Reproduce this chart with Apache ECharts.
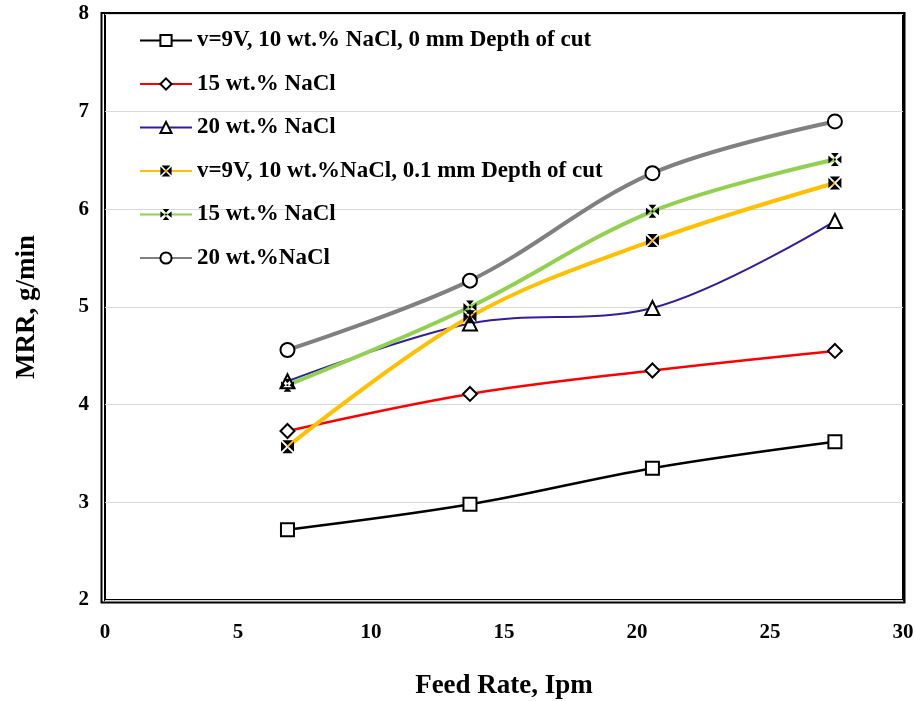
<!DOCTYPE html>
<html><head><meta charset="utf-8">
<script src="https://cdn.jsdelivr.net/npm/echarts@6/dist/echarts.min.js"></script>
<style>html,body{margin:0;padding:0;background:#fff}#c{width:915px;height:701px}</style>
</head><body><div id="c"></div>
<script>
const feedRate = [6.86, 13.72, 20.58, 27.44];
const seriesNames = [
  'v=9V, 10 wt.% NaCl, 0 mm Depth of cut',
  '15 wt.% NaCl',
  '20 wt.% NaCl',
  'v=9V, 10 wt.%NaCl, 0.1 mm Depth of cut',
  '15 wt.% NaCl ',
  '20 wt.%NaCl'
];
const mrr0_10 = [2.72, 2.98, 3.35, 3.62];
const mrr0_15 = [3.73, 4.11, 4.35, 4.55];
const mrr0_20 = [4.24, 4.83, 4.99, 5.88];
const mrr01_10 = [3.57, 4.90, 5.68, 6.27];
const mrr01_15 = [4.20, 5.00, 5.98, 6.51];
const mrr01_20 = [4.56, 5.27, 6.37, 6.90];
const xTicks = [0, 5, 10, 15, 20, 25, 30];
const yTicks = [2, 3, 4, 5, 6, 7, 8];

const font = 'Liberation Serif';
const boxX = 'path://M1,0 L9,0 L5,4 Z M1,10 L9,10 L5,6 Z M0,1 L0,9 L4,5 Z M10,1 L10,9 L6,5 Z';
const boxStar = 'path://M2,0 L8,0 L5,3.5 Z M2,10 L8,10 L5,6.5 Z M0,2 L0,8 L3.5,5 Z M10,2 L10,8 L6.5,5 Z M4.3,4.3 L5.7,4.3 L5.7,5.7 L4.3,5.7 Z';

function mk(name, data, color, width, symbol, size, filled) {
  return {
    name: name, type: 'line', smooth: 0.35,
    data: data.map((v, i) => [feedRate[i], v]),
    lineStyle: { color: color, width: width },
    itemStyle: filled ? { color: '#000', borderWidth: 0 } : { color: '#fff', borderColor: '#000', borderWidth: 2 },
    color: color,
    symbol: symbol, symbolSize: size, showSymbol: true
  };
}

const chart = echarts.init(document.getElementById('c'));
chart.setOption({
  backgroundColor: '#fff',
  animation: false,
  grid: { left: 105, right: 12, top: 14, bottom: 101, show: true, borderColor: '#000', borderWidth: 2,
    containLabel: false, outerBoundsMode: 'none' },
  graphic: [{
    type: 'rect', shape: { x: 101.5, y: 13, width: 803, height: 589.5 },
    style: { fill: 'none', stroke: '#000', lineWidth: 2 }, silent: true, z: 10
  }],
  legend: {
    orient: 'vertical', left: 134, top: 24,
    itemWidth: 52, itemHeight: 14, itemGap: 20.5,
    data: seriesNames,
    textStyle: { fontFamily: font, fontWeight: 'bold', fontSize: 23, color: '#000', lineHeight: 23 }
  },
  xAxis: {
    type: 'value', min: 0, max: 30, interval: 5,
    axisLine: { show: false }, axisTick: { show: false }, splitLine: { show: false },
    axisLabel: { margin: 22, color: '#000', fontFamily: font, fontWeight: 'bold', fontSize: 21,
      formatter: v => xTicks.includes(v) ? String(v) : '' },
    name: 'Feed Rate, Ipm', nameLocation: 'middle', nameGap: 73,
    nameTextStyle: { fontFamily: font, fontWeight: 'bold', fontSize: 27, color: '#000' }
  },
  yAxis: {
    type: 'value', min: 2, max: 8, interval: 1,
    axisLine: { show: false }, axisTick: { show: false },
    splitLine: { show: true, lineStyle: { color: '#d9d9d9', width: 1 } },
    axisLabel: { margin: 16, color: '#000', fontFamily: font, fontWeight: 'bold', fontSize: 21,
      formatter: v => yTicks.includes(v) ? String(v) : '' },
    name: 'MRR, g/min', nameLocation: 'middle', nameGap: 64, nameRotate: 90,
    nameTextStyle: { fontFamily: font, fontWeight: 'bold', fontSize: 27, color: '#000' }
  },
  series: [
    mk(seriesNames[0], mrr0_10, '#000000', 2.5, 'rect', 13, false),
    mk(seriesNames[1], mrr0_15, '#ff0000', 2.5, 'diamond', 14, false),
    mk(seriesNames[2], mrr0_20, '#2e1f9e', 2, 'triangle', 14, false),
    mk(seriesNames[3], mrr01_10, '#ffc000', 4, boxX, 13, true),
    mk(seriesNames[4], mrr01_15, '#92d050', 4, boxStar, 13, true),
    mk(seriesNames[5], mrr01_20, '#808080', 4, 'circle', 14, false)
  ]
});
</script></body></html>
